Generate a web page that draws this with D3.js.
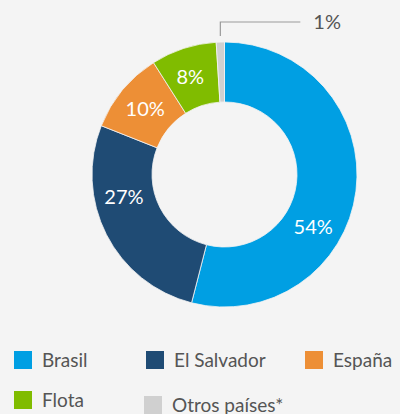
<!DOCTYPE html>
<html>
<head>
<meta charset="utf-8">
<script src="https://cdn.jsdelivr.net/npm/d3@7"></script>
<style>
  html, body { margin: 0; padding: 0; background: #f4f4f4; }
  svg { display: block; }
</style>
</head>
<body>
<div id="chart"></div>
<script>
// Distribución por país (donut)
const countries = ["Brasil", "El Salvador", "España", "Flota", "Otros países*"];
const shares = [54, 27, 10, 8, 1];
const labels = ["54%", "27%", "10%", "8%", "1%"];
const colors = ["#009fe3", "#1f4b74", "#ed8f36", "#80bc00", "#d0d0d0"];

const width = 400, height = 414;
const cx = 224.5, cy = 174.5;
const outerR = 132.5, innerR = 72.5;
const labelR = 103;
// where along each slice the label sits (0.5 = middle)
const labelPos = [0.62, 0.65, 0.5, 0.45, 0.5];

const svg = d3.select("#chart").append("svg")
    .attr("width", width)
    .attr("height", height);

const pie = d3.pie().sort(null).value(d => d);
const arcs = pie(shares);

const arc = d3.arc().innerRadius(innerR).outerRadius(outerR);

const g = svg.append("g").attr("transform", `translate(${cx},${cy})`);

g.selectAll("path")
    .data(arcs)
    .enter()
    .append("path")
    .attr("d", arc)
    .attr("fill", (d, i) => colors[i])
    .attr("stroke", "#f4f4f4")
    .attr("stroke-width", 0.8);

// labels inside slices (not the tiny one)
g.selectAll("text.val")
    .data(arcs.filter(d => d.value > 2))
    .enter()
    .append("text")
    .attr("class", "val")
    .attr("transform", d => {
        const a = d.startAngle + (d.endAngle - d.startAngle) * labelPos[d.index];
        return `translate(${labelR * Math.sin(a)},${-labelR * Math.cos(a)})`;
    })
    .attr("text-anchor", "middle")
    .attr("dy", "0.35em")
    .attr("fill", "#fff")
    .style("font-family", "Lato, sans-serif")
    .style("font-size", "20px")
    .text(d => labels[d.index]);

// leader line for the small slice
const small = arcs[arcs.length - 1];
const sa = (small.startAngle + small.endAngle) / 2;
const sx = outerR * Math.sin(sa);
const y0 = -outerR - 6, y1 = -outerR - 20;
g.append("path")
    .attr("d", `M${sx},${y0}V${y1}H${sx + 80}`)
    .attr("fill", "none")
    .attr("stroke", "#9a9a9a")
    .attr("stroke-width", 1.2);
g.append("text")
    .attr("x", sx + 93)
    .attr("y", y1 + 7)
    .attr("fill", "#555")
    .style("font-family", "Lato, sans-serif")
    .style("font-size", "20px")
    .text(labels[labels.length - 1]);

// legend
const legendPos = [
    { x: 14, y: 351 }, { x: 146, y: 351 }, { x: 305, y: 351 },
    { x: 14, y: 391 }, { x: 144, y: 396 }
];
const legend = svg.selectAll("g.leg")
    .data(countries)
    .enter()
    .append("g")
    .attr("class", "leg")
    .attr("transform", (d, i) => `translate(${legendPos[i].x},${legendPos[i].y})`);

legend.append("rect")
    .attr("width", 18)
    .attr("height", 18)
    .attr("fill", (d, i) => colors[i]);

legend.append("text")
    .attr("x", 28)
    .attr("y", 16)
    .attr("fill", "#555")
    .style("font-family", "Lato, sans-serif")
    .style("font-size", "19px")
    .text(d => d);
</script>
</body>
</html>
